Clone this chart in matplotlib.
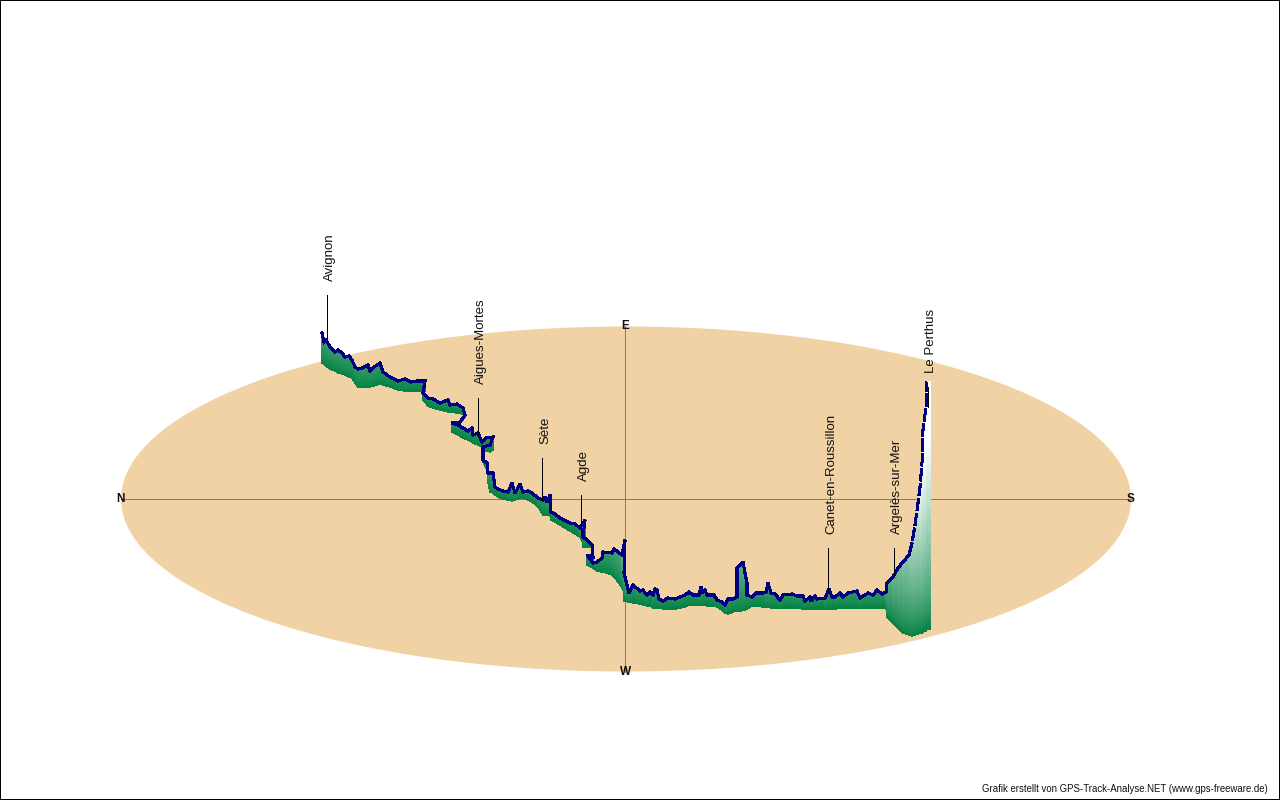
#!/usr/bin/python
# -*- coding: utf-8 -*-
import matplotlib
matplotlib.use("Agg")
import matplotlib.pyplot as plt
from matplotlib.patches import Ellipse
from matplotlib.collections import PolyCollection

plt.rcParams['font.family'] = ['Liberation Sans', 'DejaVu Sans']

# track in pixels
track_x = [322, 324, 326, 330, 335, 338, 342, 345, 349, 352, 355, 358, 362, 368, 370, 374, 380, 383, 390, 398,
           405, 411, 417, 425, 423, 428, 433, 440, 445, 448, 450, 457, 463, 465, 460, 452, 458, 463, 468, 472,
           473, 478, 482, 486, 493, 490, 483, 483, 487, 488, 490, 493, 495, 498, 503, 508, 512, 515, 520, 523,
           528, 532, 538, 543, 545, 547, 550, 551, 555, 560, 570, 575, 580, 585, 583, 587, 592, 593, 587, 593,
           597, 602, 603, 612, 614, 618, 622, 625, 624, 629, 633, 640, 643, 645, 647, 650, 653, 655, 657, 659,
           663, 668, 675, 680, 685, 689, 693, 699, 701, 702, 705, 707, 714, 717, 722, 725, 728, 733, 737, 737,
           741, 743, 745, 747, 747, 752, 756, 763, 766, 768, 771, 775, 780, 783, 792, 797, 803, 805, 810, 811,
           815, 817, 825, 829, 832, 835, 840, 843, 848, 857, 860, 868, 873, 877, 882, 886, 887, 893, 898, 903,
           909, 912, 915, 918, 920, 922, 923, 926, 927]
track_top = [333, 342, 340, 347, 352, 350, 353, 357, 356, 360, 367, 369, 368, 365, 371, 367, 363, 372, 377, 381,
             379, 382, 381, 381, 393, 398, 399, 403, 401, 400, 405, 404, 408, 415, 422, 423, 425, 428, 431, 428,
             435, 433, 442, 438, 437, 445, 447, 460, 463, 473, 473, 473, 487, 489, 491, 492, 483, 493, 484, 492,
             491, 493, 498, 500, 497, 502, 495, 512, 514, 518, 523, 524, 528, 520, 537, 540, 545, 557, 555, 563,
             562, 558, 552, 553, 549, 552, 555, 540, 573, 593, 585, 591, 590, 593, 595, 592, 595, 589, 590, 599,
             601, 598, 599, 597, 595, 592, 595, 595, 587, 593, 590, 595, 595, 600, 602, 605, 599, 599, 597, 568,
             564, 562, 573, 583, 595, 597, 593, 593, 592, 583, 593, 594, 600, 595, 594, 596, 596, 601, 597, 601,
             596, 599, 598, 589, 597, 597, 593, 597, 593, 591, 598, 593, 595, 590, 594, 592, 583, 577, 568, 562,
             555, 543, 525, 503, 487, 463, 430, 407, 382]
track_base = [363, 364, 366, 369, 371, 373, 374, 375, 377, 378, 383, 387, 387, 387, 387, 386, 384, 385, 387, 390,
              391, 391, 391, 391, 400, 406, 408, 410, 411, 412, 412, 413, 414, 417, 424, 432, 435, 438, 440, 442,
              443, 445, 447, 448, 450, 452, 450, 462, 470, 482, 492, 493, 495, 497, 499, 500, 501, 500, 498, 498,
              500, 502, 507, 515, 515, 515, 515, 520, 522, 525, 531, 534, 537, 547, 547, 547, 547, 565, 565, 568,
              571, 572, 572, 575, 577, 582, 588, 595, 601, 602, 603, 604, 605, 605, 606, 606, 608, 608, 608, 608,
              609, 609, 609, 608, 607, 605, 605, 605, 605, 605, 605, 606, 606, 607, 610, 613, 614, 612, 611, 611,
              611, 610, 610, 609, 609, 606, 606, 607, 607, 607, 608, 608, 608, 608, 608, 608, 609, 609, 609, 609,
              609, 609, 609, 609, 609, 609, 608, 608, 608, 608, 608, 608, 608, 608, 608, 608, 617, 623, 628, 633,
              635, 636, 635, 634, 633, 633, 632, 631, 629]

place_names = ['Avignon', 'Aigues-Mortes', 'Sète', 'Agde', 'Canet-en-Roussillon', 'Argelès-sur-Mer', 'Le Perthus']
place_x = [327, 478, 542, 581, 828, 894, 928]
leader_top = [295, 398, 458, 495, 548, 548, 387]
leader_bottom = [342, 435, 500, 535, 590, 575, 407]
compass_names = ['N', 'S', 'E', 'W']
compass_x = [120.5, 1131, 625.5, 625.5]
compass_y = [499, 499, 326, 672]


def curtain_colour(h):
    """green at the ground, white at about 190 px above it"""
    t = min(h / 190.0, 1.0) ** 0.75
    return (0.0 + t, 0.50 + 0.50 * t, 0.25 + 0.75 * t)


def curtain(ax):
    polys, colours = [], []
    for i in range(len(track_x) - 1):
        x0, x1 = track_x[i], track_x[i + 1]
        t0, t1 = track_top[i], track_top[i + 1]
        b0, b1 = track_base[i], track_base[i + 1]
        height = max(b0 - t0, b1 - t1)
        n = max(int(height / 3), 3)
        for k in range(n):
            f0, f1 = k / n, (k + 1) / n
            polys.append([(x0, b0 + (t0 - b0) * f0), (x1, b1 + (t1 - b1) * f0),
                          (x1, b1 + (t1 - b1) * f1), (x0, b0 + (t0 - b0) * f1)])
            colours.append(curtain_colour(height * (f0 + f1) / 2))
    # last strip of the curtain sticks out right of the track
    n = 64
    for k in range(n):
        f0, f1 = k / n, (k + 1) / n
        y0 = track_base[-1] + (track_top[-1] - track_base[-1]) * f0
        y1 = track_base[-1] + (track_top[-1] - track_base[-1]) * f1
        polys.append([(track_x[-1], y0), (930, y0), (930, y1), (track_x[-1], y1)])
        colours.append(curtain_colour(track_base[-1] - (y0 + y1) / 2))
    ax.add_collection(PolyCollection(polys, facecolors=colours, edgecolors=colours, linewidths=0.3,
                                     antialiased=False, zorder=3))


def main():
    fig = plt.figure(figsize=(12.8, 8), dpi=100)
    ax = fig.add_axes([0, 0, 1, 1])
    ax.set_xlim(0, 1280)
    ax.set_ylim(800, 0)
    ax.axis('off')

    ax.add_patch(plt.Rectangle((0, 0), 1279, 799, fill=False, edgecolor='black', lw=0.72, zorder=10))
    ax.add_patch(Ellipse((626, 499), 1010, 345, facecolor='#f0d2a5', edgecolor='none', zorder=1))
    ax.plot([121, 1131], [499, 499], color='#8a7a60', lw=0.72, zorder=2)
    ax.plot([625, 625], [326, 672], color='#8a7a60', lw=0.72, zorder=2)

    curtain(ax)

    # solid up to the foot of the climb, then broken into dots
    steep_start = track_x.index(909)
    ax.plot(track_x[:steep_start + 1], track_top[:steep_start + 1], color='#000080', lw=1.5,
            solid_joinstyle='miter', antialiased=False, zorder=5)
    ax.plot(track_x[steep_start:], track_top[steep_start:], color='#000080', lw=1.5,
            linestyle=(0, (6, 1.2)), antialiased=False, zorder=5)

    for name, x, y0, y1 in zip(place_names, place_x, leader_top, leader_bottom):
        ax.plot([x, x], [y0, y1], color='black', lw=0.72, zorder=6)
        ax.text(x + 3, y0 - 14, name, rotation=90, ha='center', va='bottom', fontsize=9.5, color='#111111', zorder=7)

    for name, x, y in zip(compass_names, compass_x, compass_y):
        ax.text(x, y, name, ha='center', va='center', fontsize=8.5, fontweight='bold', color='#111111', zorder=7)

    ax.text(1268, 789.5, 'Grafik erstellt von GPS-Track-Analyse.NET (www.gps-freeware.de)', ha='right', va='center',
            fontsize=6.95, color='#111111', zorder=7)

    fig.savefig('out.png', dpi=100)


if __name__ == "__main__":
    main()
